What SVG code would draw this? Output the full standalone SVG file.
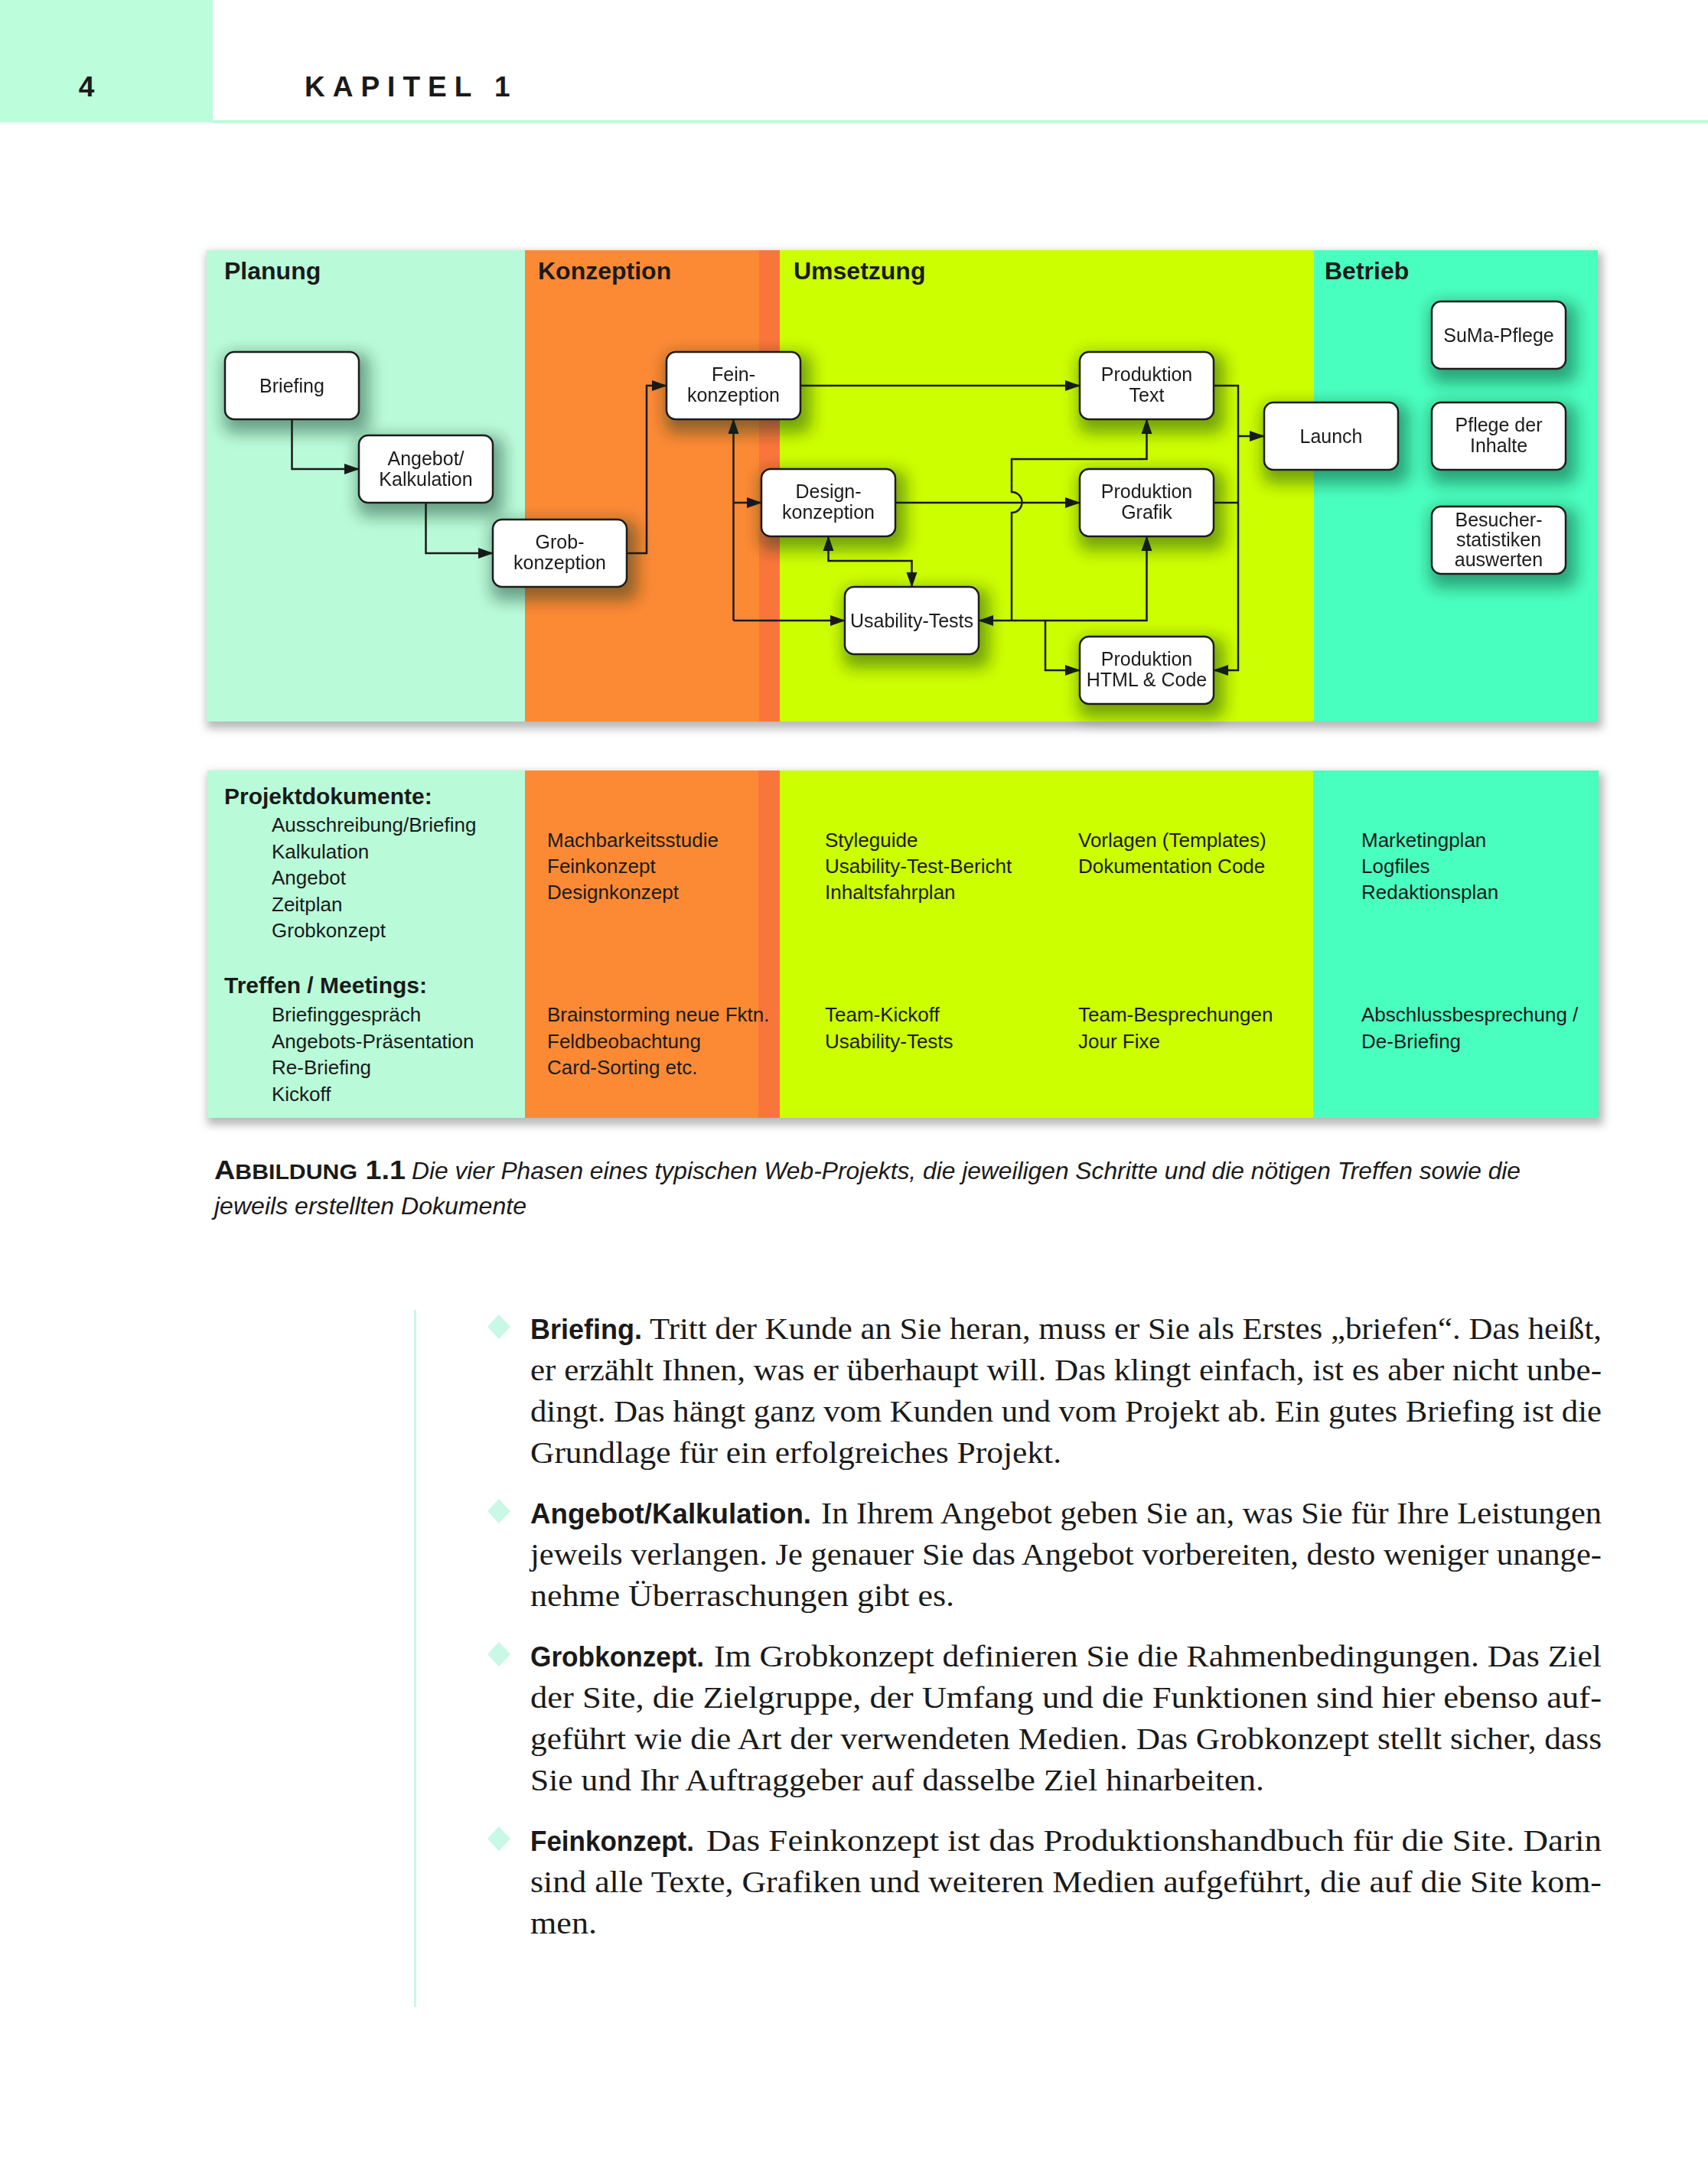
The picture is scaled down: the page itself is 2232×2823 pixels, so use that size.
<svg xmlns="http://www.w3.org/2000/svg" width="2232" height="2823" viewBox="0 0 2232 2823">
<defs>
<style>
.hd{font-family:"Liberation Sans",Arial,sans-serif;font-weight:bold;fill:#1a1a1a}
.col{font-family:"Liberation Sans",Arial,sans-serif;font-weight:bold;font-size:32px;fill:#1a1a1a}
.nb{fill:#fff;stroke:#1a1a1a;stroke-width:2.5}
.nt{font-family:"Liberation Sans",Arial,sans-serif;font-size:25px;fill:#1a1a1a;text-anchor:middle}
.cn{fill:none;stroke:#1a1a1a;stroke-width:2.5}
.it{font-family:"Liberation Sans",Arial,sans-serif;font-size:26px;fill:#1a1a1a}
.ib{font-family:"Liberation Sans",Arial,sans-serif;font-size:30px;font-weight:bold;fill:#1a1a1a}
.cap{font-family:"Liberation Sans",Arial,sans-serif;font-style:italic;font-size:32px;fill:#1a1a1a}
.capb{font-family:"Liberation Sans",Arial,sans-serif;font-weight:bold;fill:#1a1a1a}
.bd{font-family:"Liberation Serif","Times New Roman",serif;font-size:40px;fill:#1a1a1a}
.bb{font-family:"Liberation Sans",Arial,sans-serif;font-size:36px;font-weight:bold;fill:#1a1a1a}
</style>
<filter id="ns" x="-40%" y="-50%" width="190%" height="220%">
<feMorphology in="SourceAlpha" operator="dilate" radius="7" result="d"/>
<feGaussianBlur in="d" stdDeviation="10"/>
<feOffset dx="6" dy="10" result="b"/>
<feFlood flood-color="#0a2a1a" flood-opacity="0.42"/>
<feComposite in2="b" operator="in"/>
<feMerge><feMergeNode/><feMergeNode in="SourceGraphic"/></feMerge>
</filter>
<filter id="ps" x="-5%" y="-10%" width="110%" height="125%">
<feMorphology in="SourceAlpha" operator="dilate" radius="3" result="d"/>
<feGaussianBlur in="d" stdDeviation="6"/>
<feOffset dx="3" dy="6" result="b"/>
<feFlood flood-color="#000" flood-opacity="0.28"/>
<feComposite in2="b" operator="in"/>
<feMerge><feMergeNode/><feMergeNode in="SourceGraphic"/></feMerge>
</filter>
<marker id="ah" markerWidth="20" markerHeight="16" refX="19" refY="8" orient="auto-start-reverse" markerUnits="userSpaceOnUse">
<path d="M0,1 L20,8 L0,15 z" fill="#1a1a1a"/>
</marker>
</defs>
<rect width="2232" height="2823" fill="#fff"/>
<!-- page header -->
<g id="header">
<rect x="0" y="0" width="278" height="160" fill="#bcfddb"/>
<rect x="278" y="157" width="1954" height="4" fill="#bcfddb"/>
<text class="hd" x="113" y="126" font-size="37" text-anchor="middle">4</text>
<text class="hd" x="398" y="126" font-size="37" letter-spacing="10">KAPITEL 1</text>
</g>
<!-- top panel -->
<g id="panel-top" filter="url(#ps)">
<rect x="270" y="327" width="416" height="616" fill="#b9fbd9"/>
<rect x="686" y="327" width="333" height="616" fill="#fc8a35"/>
<rect x="992" y="327" width="27" height="616" fill="#f9763a"/>
<rect x="1019" y="327" width="698" height="616" fill="#ccff00"/>
<rect x="1717" y="327" width="371" height="616" fill="#48ffbf"/>
</g>
<g id="phase-titles">
<text class="col" x="293" y="365">Planung</text>
<text class="col" x="703" y="365">Konzeption</text>
<text class="col" x="1037" y="365">Umsetzung</text>
<text class="col" x="1731" y="365">Betrieb</text>
</g>
<!-- connectors -->
<g id="connectors">
<path class="cn" d="M381.5,548 V613 H469" marker-end="url(#ah)"/>
<path class="cn" d="M556.5,657 V723 H644" marker-end="url(#ah)"/>
<path class="cn" d="M819,723 H845 V504 H871" marker-end="url(#ah)"/>
<path class="cn" d="M1046,504 H1411" marker-end="url(#ah)"/>
<path class="cn" d="M958.5,811 V548" marker-end="url(#ah)"/>
<path class="cn" d="M958.5,657 H995" marker-end="url(#ah)"/>
<path class="cn" d="M958.5,811 H1104" marker-end="url(#ah)"/>
<path class="cn" d="M1170,657 H1411" marker-end="url(#ah)"/>
<path class="cn" d="M1082.5,701 V733 H1191.5 V767" marker-start="url(#ah)" marker-end="url(#ah)"/>
<path class="cn" d="M1279,811 H1498.5 V701" marker-start="url(#ah)" marker-end="url(#ah)"/>
<path class="cn" d="M1322,811 V670 A13.5,13.5 0 0 0 1322,643 V600 H1498.5 V548" marker-end="url(#ah)"/>
<path class="cn" d="M1366,811 V876 H1411" marker-end="url(#ah)"/>
<path class="cn" d="M1586,504 H1618 V876 H1586" marker-end="url(#ah)"/>
<path class="cn" d="M1586,657 H1618"/>
<path class="cn" d="M1618,570 H1652" marker-end="url(#ah)"/>
</g>
<!-- nodes -->
<g id="n-briefing" filter="url(#ns)"><rect class="nb" x="294" y="460" width="175" height="88" rx="12"/><text class="nt" x="381.5" y="513">Briefing</text></g>
<g id="n-angebot" filter="url(#ns)"><rect class="nb" x="469" y="569" width="175" height="88" rx="12"/><text class="nt" x="556.5" y="608">Angebot/</text><text class="nt" x="556.5" y="635">Kalkulation</text></g>
<g id="n-grob" filter="url(#ns)"><rect class="nb" x="644" y="679" width="175" height="88" rx="12"/><text class="nt" x="731.5" y="717">Grob-</text><text class="nt" x="731.5" y="744">konzeption</text></g>
<g id="n-fein" filter="url(#ns)"><rect class="nb" x="871" y="460" width="175" height="88" rx="12"/><text class="nt" x="958.5" y="498">Fein-</text><text class="nt" x="958.5" y="525">konzeption</text></g>
<g id="n-design" filter="url(#ns)"><rect class="nb" x="995" y="613" width="175" height="88" rx="12"/><text class="nt" x="1082.5" y="651">Design-</text><text class="nt" x="1082.5" y="678">konzeption</text></g>
<g id="n-usability" filter="url(#ns)"><rect class="nb" x="1104" y="767" width="175" height="88" rx="12"/><text class="nt" x="1191.5" y="820">Usability-Tests</text></g>
<g id="n-prodtext" filter="url(#ns)"><rect class="nb" x="1411" y="460" width="175" height="88" rx="12"/><text class="nt" x="1498.5" y="498">Produktion</text><text class="nt" x="1498.5" y="525">Text</text></g>
<g id="n-prodgrafik" filter="url(#ns)"><rect class="nb" x="1411" y="613" width="175" height="88" rx="12"/><text class="nt" x="1498.5" y="651">Produktion</text><text class="nt" x="1498.5" y="678">Grafik</text></g>
<g id="n-prodhtml" filter="url(#ns)"><rect class="nb" x="1411" y="832" width="175" height="88" rx="12"/><text class="nt" x="1498.5" y="870">Produktion</text><text class="nt" x="1498.5" y="897">HTML &amp; Code</text></g>
<g id="n-launch" filter="url(#ns)"><rect class="nb" x="1652" y="526" width="175" height="88" rx="12"/><text class="nt" x="1739.5" y="579">Launch</text></g>
<g id="n-suma" filter="url(#ns)"><rect class="nb" x="1871" y="394" width="175" height="88" rx="12"/><text class="nt" x="1958.5" y="447">SuMa-Pflege</text></g>
<g id="n-pflege" filter="url(#ns)"><rect class="nb" x="1871" y="526" width="175" height="88" rx="12"/><text class="nt" x="1958.5" y="564">Pflege der</text><text class="nt" x="1958.5" y="591">Inhalte</text></g>
<g id="n-besucher" filter="url(#ns)"><rect class="nb" x="1871" y="662" width="175" height="88" rx="12"/><text class="nt" x="1958.5" y="688">Besucher-</text><text class="nt" x="1958.5" y="714">statistiken</text><text class="nt" x="1958.5" y="740">auswerten</text></g>
<!-- bottom panel -->
<g id="panel-bottom" filter="url(#ps)">
<rect x="271" y="1007" width="415" height="454" fill="#b9fbd9"/>
<rect x="686" y="1007" width="333" height="454" fill="#fc8a35"/>
<rect x="991" y="1007" width="28" height="454" fill="#f9763a"/>
<rect x="1019" y="1007" width="697" height="454" fill="#ccff00"/>
<rect x="1716" y="1007" width="373" height="454" fill="#48ffbf"/>
</g>
<g id="docs">
<text class="ib" x="293" y="1051">Projektdokumente:</text>
<text class="it" x="355" y="1087">Ausschreibung/Briefing</text>
<text class="it" x="355" y="1121.5">Kalkulation</text>
<text class="it" x="355" y="1156">Angebot</text>
<text class="it" x="355" y="1190.5">Zeitplan</text>
<text class="it" x="355" y="1225">Grobkonzept</text>
<text class="ib" x="293" y="1298">Treffen / Meetings:</text>
<text class="it" x="355" y="1335">Briefinggespräch</text>
<text class="it" x="355" y="1369.5">Angebots-Präsentation</text>
<text class="it" x="355" y="1404">Re-Briefing</text>
<text class="it" x="355" y="1438.5">Kickoff</text>
<text class="it" x="715" y="1107">Machbarkeitsstudie</text>
<text class="it" x="715" y="1141">Feinkonzept</text>
<text class="it" x="715" y="1175">Designkonzept</text>
<text class="it" x="715" y="1335">Brainstorming neue Fktn.</text>
<text class="it" x="715" y="1369.5">Feldbeobachtung</text>
<text class="it" x="715" y="1404">Card-Sorting etc.</text>
<text class="it" x="1078" y="1107">Styleguide</text>
<text class="it" x="1078" y="1141">Usability-Test-Bericht</text>
<text class="it" x="1078" y="1175">Inhaltsfahrplan</text>
<text class="it" x="1078" y="1335">Team-Kickoff</text>
<text class="it" x="1078" y="1369.5">Usability-Tests</text>
<text class="it" x="1409" y="1107">Vorlagen (Templates)</text>
<text class="it" x="1409" y="1141">Dokumentation Code</text>
<text class="it" x="1409" y="1335">Team-Besprechungen</text>
<text class="it" x="1409" y="1369.5">Jour Fixe</text>
<text class="it" x="1779" y="1107">Marketingplan</text>
<text class="it" x="1779" y="1141">Logfiles</text>
<text class="it" x="1779" y="1175">Redaktionsplan</text>
<text class="it" x="1779" y="1335">Abschlussbesprechung /</text>
<text class="it" x="1779" y="1369.5">De-Briefing</text>
</g>
<!-- caption -->
<g id="caption">
<text class="capb" x="280" y="1541" textLength="250" lengthAdjust="spacingAndGlyphs"><tspan font-size="35">A</tspan><tspan font-size="28">BBILDUNG</tspan><tspan font-size="35"> 1.1</tspan></text>
<text class="cap" x="538" y="1541" textLength="1449" lengthAdjust="spacingAndGlyphs">Die vier Phasen eines typischen Web-Projekts, die jeweiligen Schritte und die nötigen Treffen sowie die</text>
<text class="cap" x="280" y="1587" textLength="408" lengthAdjust="spacingAndGlyphs">jeweils erstellten Dokumente</text>
</g>
<!-- body text -->
<g id="body">
<rect x="541" y="1712" width="3" height="911" fill="#c8f8e6"/>
<path d="M652,1718 L667,1734 L652,1750 L637,1734 z" fill="#c8f8e6"/>
<path d="M652,1959 L667,1975 L652,1991 L637,1975 z" fill="#c8f8e6"/>
<path d="M652,2146 L667,2162 L652,2178 L637,2162 z" fill="#c8f8e6"/>
<path d="M652,2387 L667,2403 L652,2419 L637,2403 z" fill="#c8f8e6"/>
<text class="bb" x="693" y="1750" textLength="146" lengthAdjust="spacingAndGlyphs">Briefing.</text>
<text class="bd" x="849" y="1750" textLength="1244" lengthAdjust="spacingAndGlyphs">Tritt der Kunde an Sie heran, muss er Sie als Erstes „briefen“. Das heißt,</text>
<text class="bd" x="693" y="1804" textLength="1400" lengthAdjust="spacingAndGlyphs">er erzählt Ihnen, was er überhaupt will. Das klingt einfach, ist es aber nicht unbe-</text>
<text class="bd" x="693" y="1858" textLength="1400" lengthAdjust="spacingAndGlyphs">dingt. Das hängt ganz vom Kunden und vom Projekt ab. Ein gutes Briefing ist die</text>
<text class="bd" x="693" y="1912" textLength="694" lengthAdjust="spacingAndGlyphs">Grundlage für ein erfolgreiches Projekt.</text>
<text class="bb" x="693" y="1991" textLength="367" lengthAdjust="spacingAndGlyphs">Angebot/Kalkulation.</text>
<text class="bd" x="1073" y="1991" textLength="1020" lengthAdjust="spacingAndGlyphs">In Ihrem Angebot geben Sie an, was Sie für Ihre Leistungen</text>
<text class="bd" x="693" y="2045" textLength="1400" lengthAdjust="spacingAndGlyphs">jeweils verlangen. Je genauer Sie das Angebot vorbereiten, desto weniger unange-</text>
<text class="bd" x="693" y="2099" textLength="554" lengthAdjust="spacingAndGlyphs">nehme Überraschungen gibt es.</text>
<text class="bb" x="693" y="2178" textLength="227" lengthAdjust="spacingAndGlyphs">Grobkonzept.</text>
<text class="bd" x="933" y="2178" textLength="1160" lengthAdjust="spacingAndGlyphs">Im Grobkonzept definieren Sie die Rahmenbedingungen. Das Ziel</text>
<text class="bd" x="693" y="2232" textLength="1400" lengthAdjust="spacingAndGlyphs">der Site, die Zielgruppe, der Umfang und die Funktionen sind hier ebenso auf-</text>
<text class="bd" x="693" y="2286" textLength="1400" lengthAdjust="spacingAndGlyphs">geführt wie die Art der verwendeten Medien. Das Grobkonzept stellt sicher, dass</text>
<text class="bd" x="693" y="2340" textLength="959" lengthAdjust="spacingAndGlyphs">Sie und Ihr Auftraggeber auf dasselbe Ziel hinarbeiten.</text>
<text class="bb" x="693" y="2419" textLength="214" lengthAdjust="spacingAndGlyphs">Feinkonzept.</text>
<text class="bd" x="923" y="2419" textLength="1170" lengthAdjust="spacingAndGlyphs">Das Feinkonzept ist das Produktionshandbuch für die Site. Darin</text>
<text class="bd" x="693" y="2473" textLength="1400" lengthAdjust="spacingAndGlyphs">sind alle Texte, Grafiken und weiteren Medien aufgeführt, die auf die Site kom-</text>
<text class="bd" x="693" y="2527" textLength="87" lengthAdjust="spacingAndGlyphs">men.</text>
</g>
</svg>
